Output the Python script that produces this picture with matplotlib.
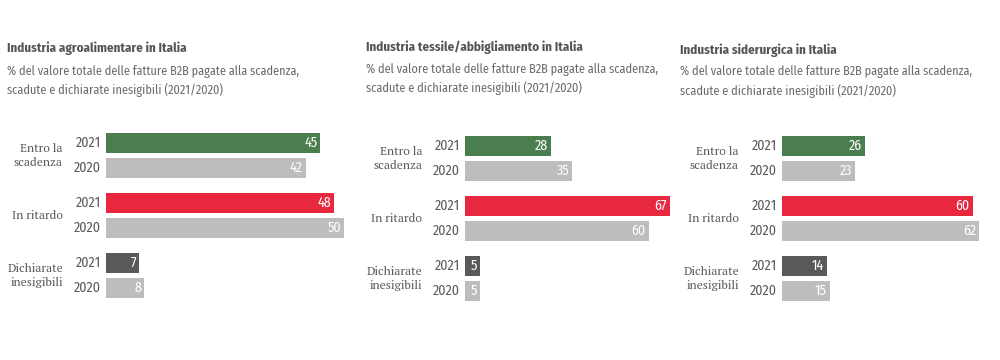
import matplotlib
matplotlib.use("Agg")
import matplotlib.pyplot as plt

# data
titles = ["Industria agroalimentare in Italia",
          "Industria tessile/abbigliamento in Italia",
          "Industria siderurgica in Italia"]
subtitle = ["% del valore totale delle fatture B2B pagate alla scadenza,",
            "scadute e dichiarate inesigibili (2021/2020)"]
categories = ["Entro la\nscadenza", "In ritardo", "Dichiarate\ninesigibili"]
years = ["2021", "2020"]
vals_2021 = [[45, 48, 7], [28, 67, 5], [26, 60, 14]]
vals_2020 = [[42, 50, 8], [35, 60, 5], [23, 62, 15]]

col_2021 = ["#4b7e4f", "#e8283e", "#59595b"]
col_2020 = "#bdbdbf"
txt = "#5a5a5a"

# layout in pixels (fig is 1000x360 at dpi 72 -> 1pt = 1px)
W, H = 1000, 360
panels = [
    dict(tx=7, ty=48, sy=71, x0=106, x1=350, scale=4.76, ytop=143),
    dict(tx=366, ty=47, sy=69, x0=465, x1=680, scale=3.06, ytop=146),
    dict(tx=680, ty=50, sy=72, x0=782, x1=995, scale=3.18, ytop=146),
]

sans = ["Fira Sans Condensed", "DejaVu Sans"]
serif = ["PT Serif", "DejaVu Serif"]

fig = plt.figure(figsize=(W / 72, H / 72), dpi=72)
fig.patch.set_facecolor("white")

for i, p in enumerate(panels):
    fig.text(p["tx"] / W, 1 - p["ty"] / H, titles[i], family=sans, weight="bold",
             fontsize=13, color="#555555", va="center", ha="left")
    for j, line in enumerate(subtitle):
        fig.text(p["tx"] / W, 1 - (p["sy"] + j * 19) / H, line, family=sans,
                 fontsize=12.2, color="#6a6a6a", va="center", ha="left")

    ax = fig.add_axes([p["x0"] / W, 1 - 310 / H, (p["x1"] - p["x0"]) / W, 190 / H])
    ax.set_xlim(0, (p["x1"] - p["x0"]) / p["scale"])
    ax.set_ylim(310, 120)
    ax.axis("off")

    for g, cat in enumerate(categories):
        ys = [p["ytop"] + g * 60, p["ytop"] + g * 60 + 25]
        vs = [vals_2021[i][g], vals_2020[i][g]]
        cs = [col_2021[g], col_2020]
        ax.barh(ys, vs, height=20, color=cs)
        for y, v, yr in zip(ys, vs, years):
            ax.annotate(str(v), xy=(v, y), xytext=(-3, 0), textcoords="offset points",
                        ha="right", va="center", color="white", fontsize=14,
                        family=sans)
            ax.annotate(yr, xy=(0, y), xytext=(-5, 0), textcoords="offset points",
                        ha="right", va="center", color=txt, fontsize=14,
                        family=sans)
        ax.annotate(cat, xy=(0, (ys[0] + ys[1]) / 2), xytext=(-43, 0),
                    textcoords="offset points", ha="right", va="center",
                    color=txt, fontsize=12, family=serif, linespacing=1.25)

fig.savefig("out.png", dpi=72, facecolor="white")
